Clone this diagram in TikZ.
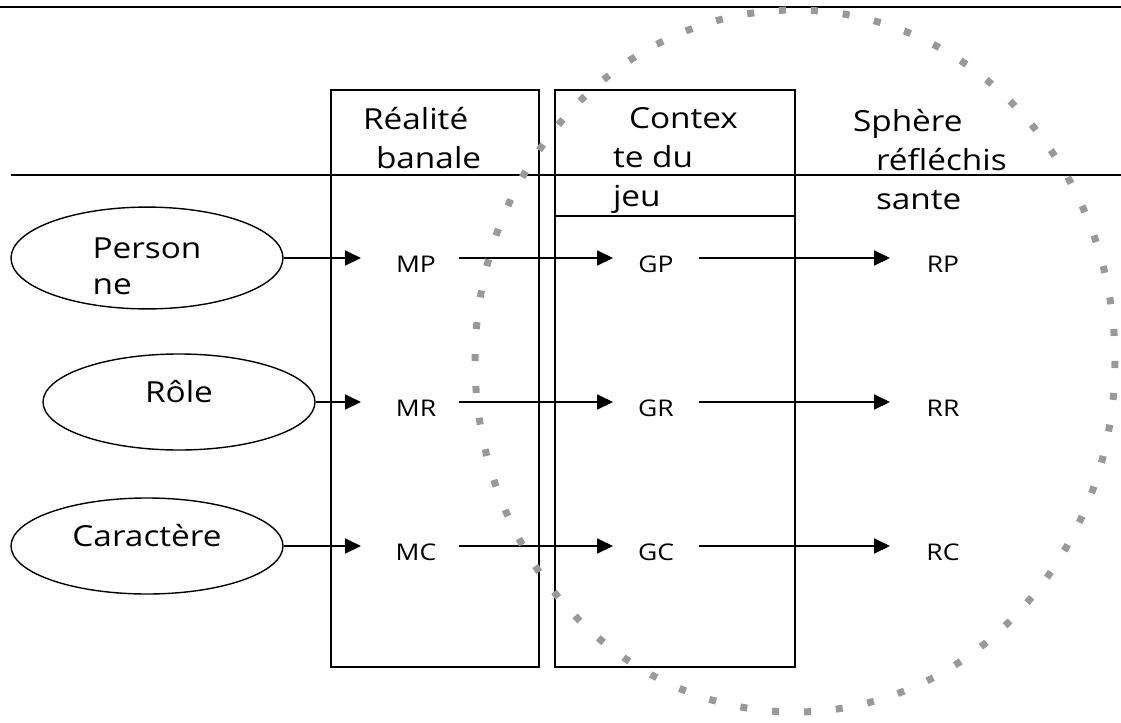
\documentclass[tikz,border=0pt]{standalone}
\usepackage{fontspec}
\setmainfont{Open Sans}[FakeStretch=1.15]
\usetikzlibrary{arrows.meta,shapes.geometric}

\newcommand{\hdfont}{\fontsize{14.5pt}{19.5pt}\selectfont}
\newcommand{\lblfont}{\fontsize{11.5pt}{13pt}\selectfont}

\tikzset{
  oval/.style={ellipse, draw, line width=0.7pt, minimum width=136pt,
    minimum height=48pt, inner sep=0pt, font=\hdfont,
    text height=8pt, text depth=8pt},
  lbl/.style={minimum width=42pt, inner sep=0pt, font=\lblfont,
    text height=14pt, text depth=0pt},
  head/.style={anchor=north west, inner sep=0pt, font=\hdfont},
  flow/.style={-{Triangle[length=8pt,width=7.5pt]}, line width=1pt},
}

\begin{document}
\begin{tikzpicture}[x=0.5pt, y=-0.5pt, line width=1pt]
  \useasboundingbox (0,0) rectangle (1121,723);

  % rules across the page
  \draw (0,7) -- (1121,7);
  \draw (11,175) -- (1121,175);

  % the two columns
  \draw (331,90) rectangle (539,667);
  \draw (555,90) rectangle (795,667);
  \draw (555,216) -- (795,216);

  % column heads
  \node[head, align=left] (hreal) at (362,106) {Réalité\\\hspace*{6.5pt}banale};
  \node[head, align=left] (hjeu) at (612,106) {\hspace*{8pt}Contex\\te du\\jeu};
  \node[head, align=left] (hsph) at (875,108) {\hspace*{-11.5pt}Sphère\\réfléchis\\sante};

  % the three sources
  \node[oval, align=left, text height=36pt, text depth=0pt] (pers) at (147,258) {Person\\[-1.5pt]ne};
  \node[oval] (role) at (179,402) {Rôle};
  \node[oval] (car) at (147,546) {Caractère};

  % labels per row
  \node[lbl] (mp) at (416,258) {MP};
  \node[lbl] (gp) at (656,258) {GP};
  \node[lbl] (rp) at (943,258) {RP};
  \node[lbl] (mr) at (416,402) {MR};
  \node[lbl] (gr) at (656,402) {GR};
  \node[lbl] (rr) at (943,402) {RR};
  \node[lbl] (mc) at (416,546) {MC};
  \node[lbl] (gc) at (656,546) {GC};
  \node[lbl] (rc) at (943,546) {RC};

  \draw[flow, shorten >=6pt] (pers.east) -- (mp.west);
  \draw[flow, shorten >=6pt] (role.east) -- (mr.west);
  \draw[flow, shorten >=6pt] (car.east) -- (mc.west);
  \foreach \r in {p,r,c}{
    \draw[flow] (m\r.east) -- (g\r.west);
    \draw[flow, shorten >=5pt] (g\r.east) -- (r\r.west);
  }

  % dotted sphere on top
  \draw[black!40, line width=3.5pt, dash pattern=on 3.5pt off 12.48pt]
    (795,361) ellipse [x radius=320, y radius=351];
\end{tikzpicture}
\end{document}
